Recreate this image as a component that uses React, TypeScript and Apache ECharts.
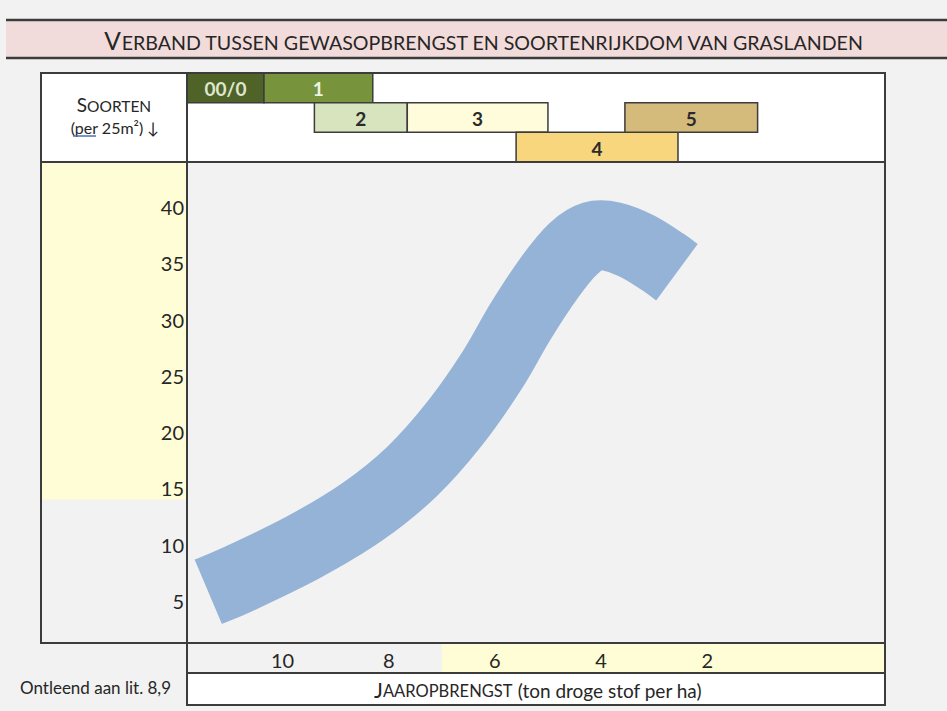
import React, { useEffect, useRef } from "react";
import * as echarts from "echarts";

// ---- texts ----
const TITLE_FIRST = "V";
const TITLE_REST = "ERBAND TUSSEN GEWASOPBRENGST EN SOORTENRIJKDOM VAN GRASLANDEN";
const Y_TITLE_FIRST = "S";
const Y_TITLE_REST = "OORTEN";
const Y_UNIT_PRE = "(";
const Y_UNIT_PER = "per";
const Y_UNIT_POST = " 25m²) ↓";
const X_TITLE_FIRST = "J";
const X_TITLE_CAPS = "AAROPBRENGST";
const X_TITLE_REST = " (ton droge stof per ha)";
const SOURCE = "Ontleend aan lit. 8,9";

// ---- axes ----
const xTickValues = [10, 8, 6, 4, 2]; // jaaropbrengst (ton droge stof per ha)
const yTickValues = [5, 10, 15, 20, 25, 30, 35, 40]; // soorten per 25 m²
const X_MIN = -1.35;
const X_MAX = 11.8;
const Y_MIN = 1.25;
const Y_MAX = 44;

// ---- highlighted ranges (yellow) ----
const richYieldBelow = 7; // ton/ha
const richSpeciesAbove = 14; // soorten

// ---- curve centre line ----
const curveYield = [11.4, 10.82, 9.6, 8.5, 7.56, 6.75, 6.05, 5.52, 4.96, 4.52, 4.15, 3.78, 3.29, 2.8, 2.57];
const curveSpecies = [5.8, 6.96, 9.78, 12.9, 16.5, 20.8, 25.5, 29.8, 33.8, 36.3, 37.4, 37.35, 36.45, 35.0, 34.2];

// ---- species-group bars (header) ----
const groupNames = ["00/0", "1", "2", "3", "4", "5"];
const groupFrom = [11.8, 10.35, 9.4, 7.65, 5.6, 3.55];
const groupTo = [10.35, 8.3, 7.65, 5.0, 2.55, 1.05];
const groupRow = [0, 0, 1, 1, 2, 1];
const groupColors = ["#4f6228", "#77933c", "#d7e4bd", "#fefcda", "#f8d67e", "#d5bb7b"];
const groupTextColors = ["#dfe6cf", "#eef3e2", "#2b2b2b", "#2b2b2b", "#2b2b2b", "#2b2b2b"];

const FONT = "Lato, 'DejaVu Sans', sans-serif";
const INK = "#262626";
const FRAME = "#3c3c3c";
const YELLOW = "#fefdd6";
const BG = "#f2f2f2";
const BAND = "#95b3d7";

// Catmull-Rom spline through pixel points -> SVG path
function splinePath(pts: number[][]): string {
  const n = pts.length;
  let d = `M${pts[0][0]},${pts[0][1]}`;
  for (let i = 0; i < n - 1; i++) {
    const p0 = pts[Math.max(0, i - 1)];
    const p1 = pts[i];
    const p2 = pts[i + 1];
    const p3 = pts[Math.min(n - 1, i + 2)];
    const c1x = p1[0] + (p2[0] - p0[0]) / 6;
    const c1y = p1[1] + (p2[1] - p0[1]) / 6;
    const c2x = p2[0] - (p3[0] - p1[0]) / 6;
    const c2y = p2[1] - (p3[1] - p1[1]) / 6;
    d += ` C${c1x},${c1y} ${c2x},${c2y} ${p2[0]},${p2[1]}`;
  }
  return d;
}

export default function App() {
  const ref = useRef<HTMLDivElement>(null);

  useEffect(() => {
    const el = ref.current;
    if (!el) return;
    const chart = echarts.init(el, undefined, { renderer: "svg" });

    // layout (pixels)
    const L = 41, R = 885, T = 73, HB = 162, PL = 187, PB = 643, RB1 = 673, RB2 = 705;

    const option: any = {
      animation: false,
      backgroundColor: BG,
      grid: [
        { left: PL, top: HB, width: R - PL, height: PB - HB },
        { left: PL, top: T, width: R - PL, height: HB - T },
      ],
      xAxis: [
        {
          type: "value",
          gridIndex: 0,
          min: X_MIN,
          max: X_MAX,
          inverse: true,
          z: 10,
          axisLine: { show: false },
          axisTick: { show: false },
          splitLine: { show: false },
          axisLabel: {
            customValues: xTickValues,
            margin: 7,
            fontSize: 20,
            fontFamily: FONT,
            color: INK,
          },
        },
        { type: "value", gridIndex: 1, min: X_MIN, max: X_MAX, inverse: true, show: false },
      ],
      yAxis: [
        {
          type: "value",
          gridIndex: 0,
          min: Y_MIN,
          max: Y_MAX,
          z: 10,
          axisLine: { show: false },
          axisTick: { show: false },
          splitLine: { show: false },
          axisLabel: {
            customValues: yTickValues,
            margin: 3,
            fontSize: 20,
            fontFamily: FONT,
            color: INK,
          },
        },
        { type: "value", gridIndex: 1, min: 0, max: 3, inverse: true, show: false },
      ],
      series: [
        {
          type: "custom",
          name: "band",
          xAxisIndex: 0,
          yAxisIndex: 0,
          silent: true,
          clip: false,
          z: 2,
          encode: { x: 0, y: 1 },
          data: curveYield.map((x, i) => [x, curveSpecies[i]]),
          renderItem: (params: any, api: any) => {
            if (params.dataIndex !== 0) return null;
            const pts = curveYield.map((x, i) => api.coord([x, curveSpecies[i]]));
            return {
              type: "path",
              shape: { pathData: splinePath(pts) },
              style: {
                fill: "none",
                stroke: BAND,
                lineWidth: 70,
                lineCap: "butt",
                lineJoin: "round",
              },
            };
          },
        },
        {
          type: "custom",
          xAxisIndex: 1,
          yAxisIndex: 1,
          silent: true,
          z: 3,
          encode: { x: [0, 1], y: 2 },
          data: groupNames.map((_, i) => [groupFrom[i], groupTo[i], groupRow[i], i]),
          renderItem: (_params: any, api: any) => {
            const from = api.value(0);
            const to = api.value(1);
            const row = api.value(2);
            const idx = api.value(3);
            const p1 = api.coord([from, row]);
            const p2 = api.coord([to, row + 1]);
            const x = Math.min(p1[0], p2[0]);
            const w = Math.abs(p2[0] - p1[0]);
            const y = Math.min(p1[1], p2[1]);
            const h = Math.abs(p2[1] - p1[1]);
            return {
              type: "group",
              children: [
                {
                  type: "rect",
                  shape: { x, y, width: w, height: h },
                  style: { fill: groupColors[idx], stroke: FRAME, lineWidth: 1.5 },
                },
                {
                  type: "text",
                  style: {
                    text: groupNames[idx],
                    x: x + w / 2,
                    y: y + h / 2 + 1,
                    align: "center",
                    verticalAlign: "middle",
                    textAlign: "center",
                    textVerticalAlign: "middle",
                    fill: groupTextColors[idx],
                    font: `bold 19px ${FONT}`,
                  },
                },
              ],
            };
          },
        },
      ],
    };
    chart.setOption(option);

    const px = (v: number) => chart.convertToPixel({ xAxisIndex: 0 }, v) as number;
    const py = (v: number) => chart.convertToPixel({ yAxisIndex: 0 }, v) as number;

    const yTop = py(Y_MAX);
    const yRich = py(richSpeciesAbove);
    const xRich = px(richYieldBelow);
    const xEnd = px(X_MIN);

    const stroke = { stroke: FRAME, lineWidth: 2, fill: "none" };
    const txt = (extra: any) => ({
      align: "center",
      verticalAlign: "middle",
      textAlign: "center",
      textVerticalAlign: "middle",
      fill: INK,
      ...extra,
    });

    const elements: any[] = [
      // title band
      { type: "rect", z: 0, shape: { x: 6, y: 20, width: 941, height: 38 }, style: { fill: "#f2dcdb" } },
      { type: "line", z: 20, shape: { x1: 6, y1: 20, x2: 947, y2: 20 }, style: { stroke: FRAME, lineWidth: 2.5 } },
      { type: "line", z: 20, shape: { x1: 6, y1: 58, x2: 947, y2: 58 }, style: { stroke: FRAME, lineWidth: 2.5 } },
      // header background
      { type: "rect", z: 0, shape: { x: L, y: T, width: R - L, height: HB - T }, style: { fill: "#ffffff" } },
      // yellow highlight in the species column
      { type: "rect", z: 0, shape: { x: L, y: yTop, width: PL - L, height: yRich - yTop }, style: { fill: YELLOW } },
      // yellow highlight in the yield row
      { type: "rect", z: 0, shape: { x: xRich, y: PB, width: xEnd - xRich, height: RB1 - PB }, style: { fill: YELLOW } },
      // white caption row
      { type: "rect", z: 0, shape: { x: PL, y: RB1, width: R - PL, height: RB2 - RB1 }, style: { fill: "#ffffff" } },
      // frames
      { type: "rect", z: 20, shape: { x: L, y: T, width: R - L, height: PB - T }, style: stroke },
      { type: "line", z: 20, shape: { x1: L, y1: HB, x2: R, y2: HB }, style: { stroke: FRAME, lineWidth: 2 } },
      { type: "line", z: 20, shape: { x1: PL, y1: T, x2: PL, y2: RB2 }, style: { stroke: FRAME, lineWidth: 2 } },
      { type: "rect", z: 20, shape: { x: PL, y: PB, width: R - PL, height: RB2 - PB }, style: stroke },
      { type: "line", z: 20, shape: { x1: PL, y1: RB1, x2: R, y2: RB1 }, style: { stroke: FRAME, lineWidth: 2 } },
      // title
      {
        type: "text",
        z: 20,
        style: txt({
          text: `{a|${TITLE_FIRST}}{b|${TITLE_REST}}`,
          x: 484,
          y: 40,
          rich: {
            a: { fontSize: 24.5, fontFamily: FONT, fill: INK, color: INK, verticalAlign: "bottom" },
            b: { fontSize: 19.6, fontFamily: FONT, fill: INK, color: INK, verticalAlign: "bottom" },
          },
        }),
      },
      // species header
      {
        type: "text",
        z: 20,
        style: txt({
          text: `{a|${Y_TITLE_FIRST}}{b|${Y_TITLE_REST}}`,
          x: 114,
          y: 104,
          rich: {
            a: { fontSize: 19, fontFamily: FONT, fill: INK, color: INK, verticalAlign: "bottom" },
            b: { fontSize: 15.5, fontFamily: FONT, fill: INK, color: INK, verticalAlign: "bottom" },
          },
        }),
      },
      {
        type: "text",
        z: 20,
        style: txt({
          text: `${Y_UNIT_PRE}${Y_UNIT_PER}${Y_UNIT_POST}`,
          x: 115,
          y: 127,
          font: `16px ${FONT}`,
        }),
      },
      { type: "line", z: 20, shape: { x1: 73, y1: 136, x2: 96, y2: 136 }, style: { stroke: "#4a72b8", lineWidth: 1.5 } },
      // x caption
      {
        type: "text",
        z: 20,
        style: txt({
          text: `{a|${X_TITLE_FIRST}}{b|${X_TITLE_CAPS}}{c|${X_TITLE_REST}}`,
          x: 538,
          y: 689,
          rich: {
            a: { fontSize: 21, fontFamily: FONT, fill: INK, color: INK, verticalAlign: "bottom" },
            b: { fontSize: 16.5, fontFamily: FONT, fill: INK, color: INK, verticalAlign: "bottom" },
            c: { fontSize: 19, fontFamily: FONT, fill: INK, color: INK, verticalAlign: "bottom" },
          },
        }),
      },
      // source
      {
        type: "text",
        z: 20,
        style: {
          text: SOURCE,
          x: 20,
          y: 687,
          align: "left",
          verticalAlign: "middle",
          textAlign: "left",
          textVerticalAlign: "middle",
          fill: INK,
          font: `17px ${FONT}`,
        },
      },
    ];

    chart.setOption({ graphic: { elements } });

    return () => chart.dispose();
  }, []);

  return (
    <div
      ref={ref}
      style={{ position: "fixed", left: 0, top: 0, width: 947, height: 711, background: BG }}
    />
  );
}
